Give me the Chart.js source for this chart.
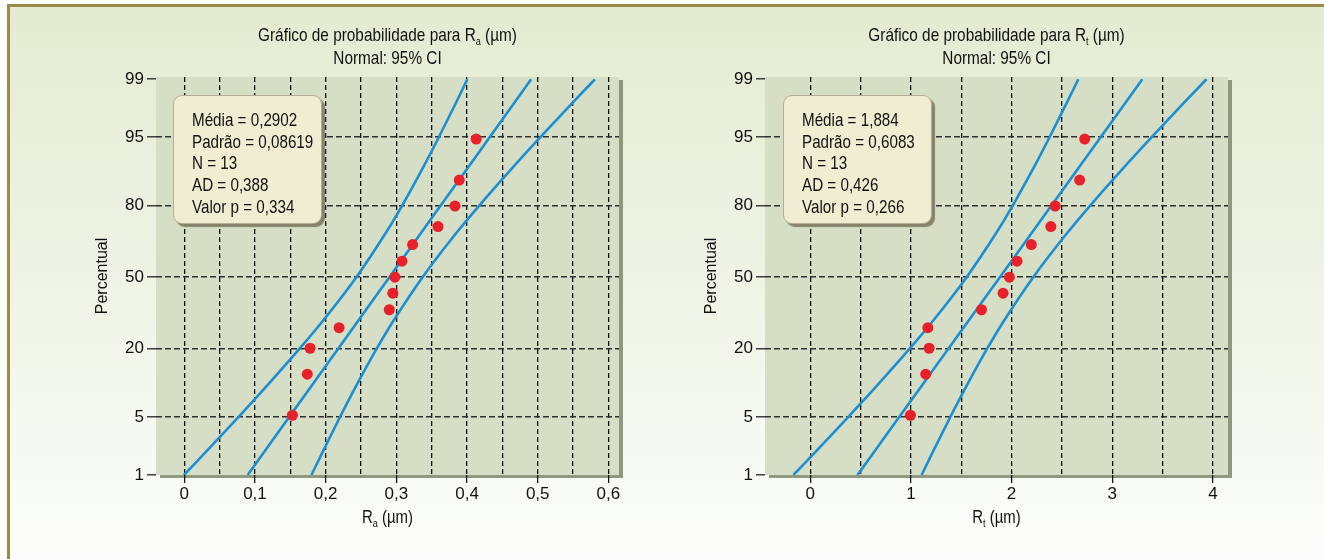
<!DOCTYPE html>
<html><head><meta charset="utf-8">
<script src="https://cdn.jsdelivr.net/npm/chart.js@4/dist/chart.umd.min.js"></script>
<style>
html,body{margin:0;padding:0;background:#fff;}
#wrap{position:relative;width:1324px;height:559px;overflow:hidden;background:#fff;}
#frame{position:absolute;left:7px;top:4px;width:1317px;height:555px;box-sizing:border-box;border-top:3px solid #9c8a4c;border-left:3px solid #9c8a4c;background:linear-gradient(to bottom,#e3ecd2 0%,#edf3e4 45%,#fcfdfa 100%);}
canvas{position:absolute;top:0;}
.stats{position:absolute;top:95px;width:149px;height:129px;box-sizing:border-box;background:#f1edd2;border:1px solid #b3ae93;border-radius:9px;box-shadow:3px 3px 1px #85836b;padding:13px 0 0 18px;z-index:5;white-space:nowrap;}
.stats .txt{font-family:'Liberation Sans',Arial,sans-serif;font-size:19px;line-height:21.7px;color:#111;transform:scaleX(0.8);transform-origin:0 0;}
</style></head>
<body>
<div id="wrap">
  <div id="frame"></div>
  <canvas id="c1" width="660" height="559" style="left:0px"></canvas>
  <canvas id="c2" width="660" height="559" style="left:609px"></canvas>
</div>
<script>
// ---------- DATA ----------
const pctTicks = [1, 5, 20, 50, 80, 95, 99];
const rankPct = [5.22, 12.69, 20.15, 27.61, 35.07, 42.54, 50.0, 57.46, 64.93, 72.39, 79.85, 87.31, 94.78];
const raValues = [0.153, 0.174, 0.178, 0.219, 0.290, 0.295, 0.298, 0.308, 0.323, 0.359, 0.383, 0.389, 0.413];
const rtValues = [0.995, 1.147, 1.181, 1.168, 1.701, 1.915, 1.978, 2.054, 2.196, 2.390, 2.433, 2.676, 2.726];

const curvePct = [1, 2, 5, 10, 20, 30, 50, 70, 80, 90, 95, 98, 99];
const raFit   = [0.0897, 0.1132, 0.1484, 0.1797, 0.2177, 0.2450, 0.2902, 0.3354, 0.3627, 0.4007, 0.4320, 0.4672, 0.4907];
const raLower = [-0.0005, 0.0306, 0.0766, 0.1165, 0.1631, 0.1950, 0.2434, 0.2854, 0.3082, 0.3374, 0.3601, 0.3846, 0.4005];
const raUpper = [0.1799, 0.1958, 0.2203, 0.2430, 0.2722, 0.2950, 0.3371, 0.3854, 0.4173, 0.4639, 0.5038, 0.5498, 0.5809];
const rtFit   = [0.469, 0.635, 0.883, 1.104, 1.372, 1.565, 1.884, 2.203, 2.396, 2.664, 2.885, 3.133, 3.299];
const rtLower = [-0.168, 0.052, 0.376, 0.658, 0.987, 1.212, 1.553, 1.850, 2.011, 2.217, 2.377, 2.550, 2.663];
const rtUpper = [1.106, 1.218, 1.391, 1.551, 1.757, 1.918, 2.215, 2.556, 2.781, 3.110, 3.392, 3.716, 3.936];

const raGridTicks = [0, 0.05, 0.1, 0.15, 0.2, 0.25, 0.3, 0.35, 0.4, 0.45, 0.5, 0.55, 0.6];
const raTickLabels = [0, 0.1, 0.2, 0.3, 0.4, 0.5, 0.6];
const rtGridTicks = [0, 0.5, 1, 1.5, 2, 2.5, 3, 3.5, 4];
const rtTickLabels = [0, 1, 2, 3, 4];

const raStats = ['Média = 0,2902', 'Padrão = 0,08619', 'N = 13', 'AD = 0,388', 'Valor p = 0,334'];
const rtStats = ['Média = 1,884', 'Padrão = 0,6083', 'N = 13', 'AD = 0,426', 'Valor p = 0,266'];

const raTitle = ['Gráfico de probabilidade para R', 'a', ' (µm)'];
const rtTitle = ['Gráfico de probabilidade para R', 't', ' (µm)'];
const subTitle = 'Normal: 95% CI';
const raXTitle = ['R', 'a', ' (µm)'];
const rtXTitle = ['R', 't', ' (µm)'];
const yTitle = 'Percentual';

// ---------- probability scale ----------
const FONT = "'Liberation Sans',Arial,sans-serif";
const SX = 0.83; // horizontal compression imitating a condensed face
function probit(p){
  const a=[-3.969683028665376e+01,2.209460984245205e+02,-2.759285104469687e+02,1.383577518672690e+02,-3.066479806614716e+01,2.506628277459239e+00];
  const b=[-5.447609879822406e+01,1.615858368580409e+02,-1.556989798598866e+02,6.680131188771972e+01,-1.328068155288572e+01];
  const c=[-7.784894002430293e-03,-3.223964580411365e-01,-2.400758277161838e+00,-2.549732539343734e+00,4.374664141464968e+00,2.938163982698783e+00];
  const d=[7.784695709041462e-03,3.224671290700398e-01,2.445134137142996e+00,3.754408661907416e+00];
  const pl=0.02425, ph=1-pl;
  let q,r;
  if(p<pl){q=Math.sqrt(-2*Math.log(p));return (((((c[0]*q+c[1])*q+c[2])*q+c[3])*q+c[4])*q+c[5])/((((d[0]*q+d[1])*q+d[2])*q+d[3])*q+1);}
  if(p<=ph){q=p-0.5;r=q*q;return (((((a[0]*r+a[1])*r+a[2])*r+a[3])*r+a[4])*r+a[5])*q/(((((b[0]*r+b[1])*r+b[2])*r+b[3])*r+b[4])*r+1);}
  q=Math.sqrt(-2*Math.log(1-p));return -(((((c[0]*q+c[1])*q+c[2])*q+c[3])*q+c[4])*q+c[5])/((((d[0]*q+d[1])*q+d[2])*q+d[3])*q+1);
}
function ncdf(z){
  const t=1/(1+0.2316419*Math.abs(z));
  const y=0.3989423*Math.exp(-z*z/2)*t*(0.3193815+t*(-0.3565638+t*(1.781478+t*(-1.821256+t*1.330274))));
  return z>0?1-y:y;
}
class ProbitScale extends Chart.Scale {
  static id = 'probit';
  static defaults = {};
  determineDataLimits(){ this.min = this.options.min; this.max = this.options.max; }
  buildTicks(){ return pctTicks.map(v => ({value: v})); }
  configure(){ super.configure(); this._zs = probit(this.min/100); this._ze = probit(this.max/100); }
  getLabelForValue(v){ return String(v); }
  getPixelForValue(v){ return this.getPixelForDecimal((probit(v/100) - this._zs)/(this._ze - this._zs)); }
  getValueForPixel(px){ return 100*ncdf(this._zs + this.getDecimalForPixel(px)*(this._ze - this._zs)); }
  getPixelForTick(i){ return this.getPixelForValue(this.ticks[i].value); }
}
Chart.register(ProbitScale);

// ---------- helpers ----------
function drawRich(ctx, parts, cx, cy, size){
  const subSize = Math.round(size*0.62);
  const fMain = size + 'px ' + FONT, fSub = subSize + 'px ' + FONT;
  let w = 0;
  parts.forEach((t,i) => { ctx.font = (i===1) ? fSub : fMain; w += ctx.measureText(t).width; });
  ctx.save();
  ctx.translate(cx, 0); ctx.scale(SX, 1);
  let x = -w/2;
  ctx.textBaseline = 'middle'; ctx.textAlign = 'left'; ctx.fillStyle = '#111';
  parts.forEach((t,i) => {
    ctx.font = (i===1) ? fSub : fMain;
    ctx.fillText(t, x, (i===1) ? cy + size*0.32 : cy);
    x += ctx.measureText(t).width;
  });
  ctx.restore();
}

function makeChart(id, cfg){
  const plotPlugin = {
    id: 'plotDeco',
    beforeDraw(chart){
      const {ctx, chartArea: a} = chart;
      ctx.save();
      ctx.fillStyle = '#8e987f';
      ctx.fillRect(a.left + 4, a.top + 3, a.right - a.left, a.bottom - a.top);
      ctx.fillStyle = '#d6dfc6';
      ctx.fillRect(a.left, a.top, a.right - a.left, a.bottom - a.top);
      ctx.restore();
    },
    afterDraw(chart){
      const {ctx, chartArea: a} = chart;
      const cx = (a.left + a.right)/2;
      drawRich(ctx, cfg.title, cx, 36, 18.5);
      drawRich(ctx, [subTitle], cx, 59, 18.5);
      drawRich(ctx, cfg.xTitle, cx, 518, 18);
    }
  };
  const pts = (xs, ps) => xs.map((x,i) => ({x: x, y: ps[i]}));
  const lineDs = (xs) => ({
    data: pts(xs, curvePct), showLine: true, borderColor: '#1b8fd2', borderWidth: 2.6,
    pointRadius: 0, fill: false, cubicInterpolationMode: 'monotone'
  });
  return new Chart(document.getElementById(id), {
    type: 'scatter',
    data: { datasets: [
      { data: pts(cfg.values, rankPct), pointRadius: 5.5, pointBackgroundColor: '#e8202a', pointBorderWidth: 0, showLine: false },
      lineDs(cfg.fit), lineDs(cfg.lower), lineDs(cfg.upper)
    ]},
    options: {
      responsive: false, animation: false, events: [],
      layout: { padding: { left: 90, top: 77, right: 41, bottom: 38 } },
      plugins: { legend: {display: false}, tooltip: {enabled: false}, title: {display: false} },
      scales: {
        x: {
          type: 'linear', min: cfg.xmin, max: cfg.xmax,
          afterBuildTicks: s => { s.ticks = cfg.grid.map(v => ({value: v})); },
          afterFit: s => { s.height = 46; s.paddingLeft = 0; s.paddingRight = 0; },
          ticks: {
            autoSkip: false, maxRotation: 0, padding: 1, color: '#111',
            font: { family: FONT, size: 17 },
            callback: v => cfg.labels.some(l => Math.abs(l - v) < 1e-9) ? cfg.fmt(v) : ''
          },
          grid: {
            color: '#111', lineWidth: 1.3, tickLength: 8, tickWidth: 1.3,
            tickColor: c => cfg.labels.some(l => Math.abs(l - c.tick.value) < 1e-9) ? '#151515' : 'rgba(0,0,0,0)'
          },
          border: { display: false, dash: [5, 3] }
        },
        y: {
          type: 'probit', min: 1, max: 99.069,
          afterFit: s => { s.width = 66; s.paddingTop = 0; s.paddingBottom = 0; },
          ticks: { padding: 3, color: '#111', font: { family: FONT, size: 17 }, callback: v => String(v) },
          grid: {
            color: c => (c.tick && (c.tick.value === 1 || c.tick.value === 99)) ? 'rgba(0,0,0,0)' : '#2e2e2e',
            lineWidth: 1.6, tickLength: 9, tickWidth: 1.3, tickColor: '#222'
          },
          border: { display: false, dash: [6, 3] },
          title: { display: true, text: yTitle, color: '#111', font: { family: FONT, size: 16 }, padding: { top: 3, bottom: 0 } }
        }
      }
    },
    plugins: [plotPlugin]
  });
}

const fmtComma = v => v.toFixed(1).replace('.', ',');
const fmtInt = v => String(Math.round(v));

makeChart('c1', { values: raValues, fit: raFit, lower: raLower, upper: raUpper, xmin: -0.04, xmax: 0.615,
  grid: raGridTicks, labels: raTickLabels, fmt: v => (v === 0 ? '0' : fmtComma(v)), title: raTitle, xTitle: raXTitle });
makeChart('c2', { values: rtValues, fit: rtFit, lower: rtLower, upper: rtUpper, xmin: -0.45, xmax: 4.15,
  grid: rtGridTicks, labels: rtTickLabels, fmt: fmtInt, title: rtTitle, xTitle: rtXTitle });

function addStats(lines, left){
  const d = document.createElement('div');
  d.className = 'stats'; d.style.left = left + 'px';
  const t = document.createElement('div'); t.className = 'txt';
  lines.forEach(s => { const r = document.createElement('div'); r.textContent = s; t.appendChild(r); });
  d.appendChild(t);
  document.getElementById('wrap').appendChild(d);
}
addStats(raStats, 173);
addStats(rtStats, 783);
</script>
</body></html>
